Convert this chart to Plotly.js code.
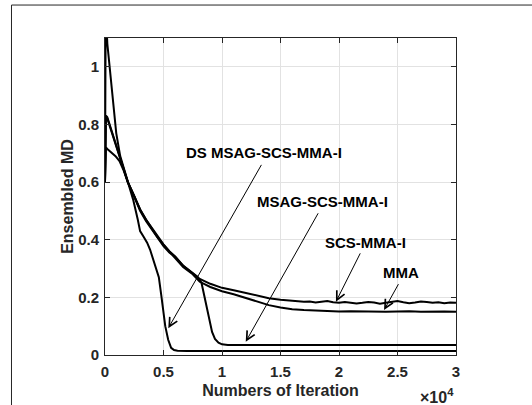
<!DOCTYPE html>
<html>
<head>
<meta charset="utf-8">
<script src="https://cdn.plot.ly/plotly-3.0.1.min.js"></script>
<style>html,body{margin:0;padding:0;background:#fff;}#chart{width:532px;height:405px;}</style>
</head>
<body>
<div id="chart"></div>
<script>
// ---- data ----
const seriesNames = ['DS MSAG-SCS-MMA-I', 'MSAG-SCS-MMA-I', 'SCS-MMA-I', 'MMA'];

const iterDS = [0, 60, 200, 530, 960, 1300, 1670, 1950, 2400, 2800, 3000, 3300, 3600, 3850, 4100, 4400, 4600, 4800, 5000, 5150, 5400, 5650, 5900, 6200, 7000, 10000, 15000, 20000, 25000, 30000];
const mdDS   = [0.60, 1.20, 1.08, 0.94, 0.77, 0.69, 0.64, 0.598, 0.54, 0.47, 0.43, 0.41, 0.39, 0.366, 0.335, 0.30, 0.27, 0.21, 0.15, 0.10, 0.053, 0.025, 0.017, 0.015, 0.014, 0.014, 0.014, 0.014, 0.014, 0.014];

const iterMSAG = [0, 80, 200, 400, 700, 1000, 1500, 1950, 2500, 3000, 3500, 4000, 4500, 5000, 5500, 6000, 6675, 7200, 7600, 7900, 8250, 8450, 8700, 8950, 9150, 9400, 9700, 10000, 10500, 15000, 20000, 25000, 30000];
const mdMSAG   = [0.60, 0.83, 0.825, 0.80, 0.76, 0.72, 0.66, 0.60, 0.55, 0.50, 0.465, 0.435, 0.405, 0.378, 0.356, 0.34, 0.31, 0.293, 0.282, 0.272, 0.25, 0.21, 0.165, 0.11, 0.08, 0.056, 0.043, 0.037, 0.035, 0.035, 0.035, 0.035, 0.035];

const iterSCS = [0, 80, 200, 400, 700, 1000, 1500, 1950, 2500, 3000, 3500, 4000, 4500, 5000, 5500, 6000, 6675, 7500, 8100, 9000, 9500, 10000, 11000, 12000, 13000, 14000, 15000, 16000, 17000, 17500, 18000, 18500, 19000, 19500, 20000, 20500, 21000, 21500, 22000, 22500, 23000, 23500, 24000, 24500, 25000, 25500, 26000, 26500, 27000, 27500, 28000, 28500, 29000, 29500, 30000];
const mdSCS   = [0.60, 0.83, 0.82, 0.795, 0.755, 0.715, 0.655, 0.60, 0.552, 0.505, 0.47, 0.44, 0.41, 0.384, 0.36, 0.342, 0.31, 0.285, 0.264, 0.247, 0.239, 0.233, 0.225, 0.215, 0.205, 0.197, 0.192, 0.188, 0.185, 0.186, 0.182, 0.185, 0.187, 0.183, 0.181, 0.184, 0.182, 0.179, 0.181, 0.184, 0.182, 0.178, 0.181, 0.185, 0.187, 0.183, 0.180, 0.182, 0.186, 0.184, 0.181, 0.183, 0.180, 0.182, 0.181];

const iterMMA = [0, 80, 200, 500, 900, 1240, 1600, 1950, 2500, 3000, 3500, 4000, 4500, 5000, 5500, 6000, 6675, 7500, 8100, 9000, 9500, 10000, 11000, 12000, 13000, 14000, 15000, 16000, 17000, 18000, 19000, 20000, 21000, 22000, 23000, 24000, 25000, 26000, 27000, 28000, 29000, 30000];
const mdMMA   = [0.60, 0.72, 0.715, 0.705, 0.69, 0.673, 0.64, 0.60, 0.55, 0.505, 0.47, 0.438, 0.408, 0.382, 0.358, 0.338, 0.305, 0.28, 0.254, 0.236, 0.228, 0.221, 0.211, 0.198, 0.185, 0.173, 0.165, 0.159, 0.156, 0.154, 0.152, 0.151, 0.152, 0.151, 0.152, 0.150, 0.151, 0.152, 0.150, 0.151, 0.151, 0.150];

const xTickVals = [0, 5000, 10000, 15000, 20000, 25000, 30000];
const xTickText = ['0', '0.5', '1', '1.5', '2', '2.5', '3'];
const yTickVals = [0, 0.2, 0.4, 0.6, 0.8, 1];
const yTickText = ['0', '0.2', '0.4', '0.6', '0.8', '1'];

// label text position, arrow tail, arrow head (data coords)
const labelX    = [13550, 18630, 22250, 25290];
const labelY    = [0.701, 0.533, 0.390, 0.286];
const tailX     = [13440, 18290, 21880, 25150];
const tailY     = [0.665, 0.497, 0.358, 0.251];
const headX     = [5410, 12030, 19740, 23850];
const headY     = [0.093, 0.046, 0.185, 0.156];

// ---- chart ----
const FONT = 'Liberation Sans, Arial, sans-serif';
const xs = [iterDS, iterMSAG, iterSCS, iterMMA];
const ys = [mdDS, mdMSAG, mdSCS, mdMMA];
const traces = xs.map((x, i) => ({
  x: x, y: ys[i], type: 'scatter', mode: 'lines', name: seriesNames[i],
  line: {color: '#000000', width: 2}, showlegend: false
}));

const annotations = [];
seriesNames.forEach((n, i) => {
  annotations.push({
    x: labelX[i], y: labelY[i], xref: 'x', yref: 'y', text: n, showarrow: false,
    font: {family: FONT, size: 15, color: '#000', weight: 'bold'}, xanchor: 'center', yanchor: 'middle'
  });
  annotations.push({
    x: headX[i], y: headY[i], ax: tailX[i], ay: tailY[i], xref: 'x', yref: 'y', axref: 'x', ayref: 'y',
    text: '', showarrow: true, arrowhead: 5, arrowsize: 1.7, arrowwidth: 1, arrowcolor: '#000'
  });
});
annotations.push({
  xref: 'paper', yref: 'paper', x: 1.0, y: -0.13, xanchor: 'right', yanchor: 'middle',
  text: '×10<sup>4</sup>', showarrow: false,
  font: {family: FONT, size: 16, color: '#262626', weight: 'bold'}
});

const layout = {
  width: 532, height: 405,
  margin: {l: 105, r: 76, t: 38, b: 50},
  paper_bgcolor: '#ffffff', plot_bgcolor: '#ffffff',
  font: {family: FONT, color: '#262626'},
  xaxis: {
    range: [0, 30000], tickvals: xTickVals, ticktext: xTickText,
    ticks: 'inside', ticklen: 5, tickcolor: '#262626', tickwidth: 1,
    showline: true, mirror: 'ticks', linecolor: '#262626', linewidth: 1,
    showgrid: true, gridcolor: '#e2e2e2', gridwidth: 1, zeroline: false,
    ticklabelstandoff: 3,
    tickfont: {family: FONT, size: 15, color: '#262626', weight: 'bold'},
    title: {text: 'Numbers of Iteration', standoff: 5, font: {family: FONT, size: 16, color: '#262626', weight: 'bold'}}
  },
  yaxis: {
    range: [0, 1.1], tickvals: yTickVals, ticktext: yTickText,
    ticks: 'inside', ticklen: 5, tickcolor: '#262626', tickwidth: 1,
    showline: true, mirror: 'ticks', linecolor: '#262626', linewidth: 1,
    showgrid: true, gridcolor: '#e2e2e2', gridwidth: 1, zeroline: false,
    ticklabelstandoff: 2,
    tickfont: {family: FONT, size: 15, color: '#262626', weight: 'bold'},
    title: {text: 'Ensembled MD', standoff: 0, font: {family: FONT, size: 16, color: '#262626', weight: 'bold'}}
  },
  annotations: annotations,
  shapes: [
    {type: 'line', xref: 'paper', yref: 'paper', x0: -0.2664, x1: 1.25, y0: 1.104, y1: 1.104, line: {color: '#262626', width: 1}},
    {type: 'line', xref: 'paper', yref: 'paper', x0: -0.2664, x1: -0.2664, y0: 1.104, y1: -0.2, line: {color: '#262626', width: 1}}
  ]
};

Plotly.newPlot('chart', traces, layout, {displayModeBar: false, staticPlot: true});
</script>
</body>
</html>
